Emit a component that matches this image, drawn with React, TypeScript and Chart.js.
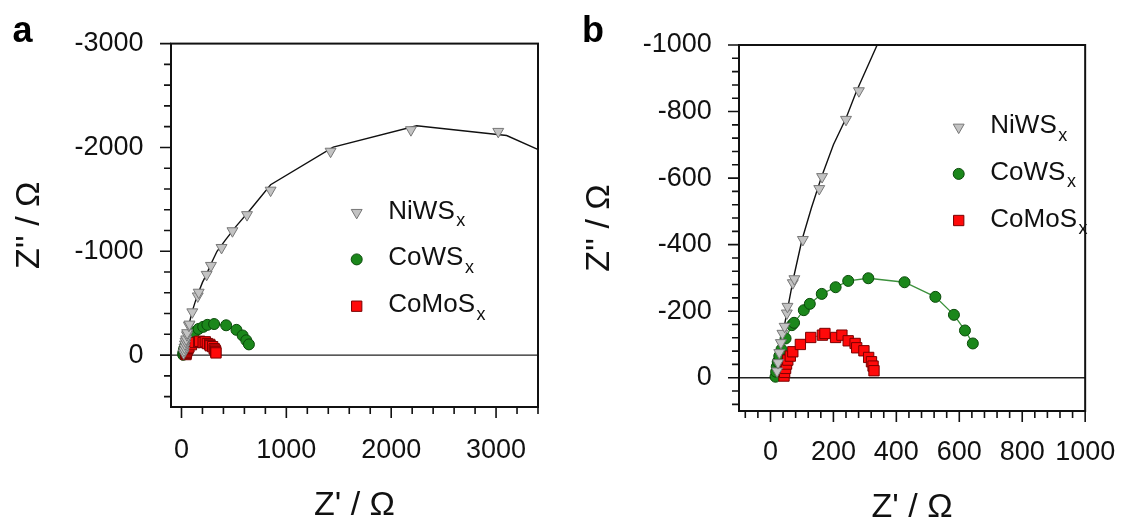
import React, { useEffect, useRef } from 'react';
import { Chart, registerables } from 'chart.js';

Chart.register(...registerables);

const FONT = "'Liberation Sans', Arial, Helvetica, sans-serif";

// ---- data (Z' real part, Z'' imaginary part, Ohm) ----
const niwsX = [21, 24, 28, 33, 38, 45, 52, 54, 71, 76, 103, 155, 164, 240, 281, 382, 486, 625, 850, 1422, 2188, 3021];
const niwsY = [-20, -45, -75, -105, -133, -154, -194, -214, -285, -297, -415, -568, -604, -776, -862, -1035, -1196, -1351, -1587, -1962, -2169, -2153];

const niwsFitX = [18, 24, 32, 42, 55, 73, 100, 130, 161, 200, 240, 273, 339, 420, 520, 640, 850, 1447, 2243, 3101, 3700];
const niwsFitY = [0, -40, -90, -145, -210, -299, -414, -510, -600, -700, -780, -860, -1000, -1110, -1240, -1380, -1641, -2003, -2208, -2115, -1845];

const cowsX = [16, 18, 20, 23, 28, 35, 48, 68, 75, 106, 125, 163, 207, 247, 311, 426, 524, 583, 618, 643];
const cowsY = [-3, -18, -33, -48, -65, -85, -118, -158, -165, -203, -222, -252, -272, -291, -299, -287, -243, -189, -142, -103];

const comosX = [43, 45, 48, 51, 55, 63, 71, 95, 128, 165, 173, 207, 227, 247, 269, 274, 297, 312, 321, 326, 329];
const comosY = [-5, -16, -28, -41, -53, -65, -78, -100, -121, -128, -133, -121, -128, -111, -103, -90, -81, -61, -48, -35, -21];

const seriesNames = ['NiWS', 'CoWS', 'CoMoS'];
const seriesSub = 'x';

// axis ranges / ticks
const aXRange = [-100, 3400];
const aYRange = [-3000, 500];
const aXLabels = [0, 1000, 2000, 3000];
const aYLabels = [-3000, -2000, -1000, 0];
const aMinorStep = 200;
const aMajorStep = 1000;

const bXRange = [-100, 1000];
const bYRange = [-1000, 100];
const bXLabels = [0, 200, 400, 600, 800, 1000];
const bYLabels = [-1000, -800, -600, -400, -200, 0];
const bMinorStep = 40;
const bMajorStep = 200;

const xTitle = "Z' / Ω";
const yTitle = "Z'' / Ω";

const pts = (xs: number[], ys: number[]) => xs.map((x, i) => ({ x, y: ys[i] }));

const STYLE = {
  tri: { bg: '#c3c3c3', border: '#777777', r: 6.3 },
  circ: { bg: '#1b871b', border: '#0a4a0a', r: 5.5 },
  sq: { bg: '#ff0a0a', border: '#7a0000', r: 7.3 },
};

function drawMarker(ctx: CanvasRenderingContext2D, kind: string, x: number, y: number) {
  ctx.save();
  ctx.lineWidth = 1;
  ctx.beginPath();
  if (kind === 'tri') {
    const r = STYLE.tri.r;
    ctx.moveTo(x, y + r);
    ctx.lineTo(x - r * Math.sin(Math.PI / 3), y - r / 2);
    ctx.lineTo(x + r * Math.sin(Math.PI / 3), y - r / 2);
    ctx.closePath();
    ctx.fillStyle = STYLE.tri.bg; ctx.strokeStyle = STYLE.tri.border;
  } else if (kind === 'circ') {
    ctx.arc(x, y, STYLE.circ.r, 0, Math.PI * 2);
    ctx.fillStyle = STYLE.circ.bg; ctx.strokeStyle = STYLE.circ.border;
  } else {
    const s = STYLE.sq.r * Math.SQRT1_2;
    ctx.rect(x - s, y - s, 2 * s, 2 * s);
    ctx.fillStyle = STYLE.sq.bg; ctx.strokeStyle = STYLE.sq.border;
  }
  ctx.fill();
  ctx.stroke();
  ctx.restore();
}

const decorPlugin = {
  id: 'decor',
  beforeDatasetsDraw(chart: any) {
    const { ctx, chartArea: a, scales } = chart;
    const y0 = scales.y.getPixelForValue(0);
    ctx.save();
    ctx.strokeStyle = '#222';
    ctx.lineWidth = 1.3;
    ctx.beginPath();
    ctx.moveTo(a.left, y0);
    ctx.lineTo(a.right, y0);
    ctx.stroke();
    ctx.restore();
  },
  afterDraw(chart: any, _args: any, opts: any) {
    const { ctx, chartArea: a, scales } = chart;
    const { x, y } = scales;
    ctx.save();
    // frame
    ctx.strokeStyle = '#111';
    ctx.lineWidth = 2;
    ctx.strokeRect(a.left, a.top, a.right - a.left, a.bottom - a.top);
    // ticks
    ctx.lineWidth = 1.6;
    const minor = opts.minorStep, major = opts.majorStep;
    ctx.beginPath();
    for (let v = Math.ceil(x.min / minor) * minor; v <= x.max + 1e-6; v += minor) {
      const px = x.getPixelForValue(v);
      const len = Math.abs(v % major) < 1e-6 ? 11 : 7;
      ctx.moveTo(px, a.bottom);
      ctx.lineTo(px, a.bottom + len);
    }
    for (let v = Math.ceil(y.min / minor) * minor; v <= y.max + 1e-6; v += minor) {
      const py = y.getPixelForValue(v);
      const len = Math.abs(v % major) < 1e-6 ? 11 : 7;
      ctx.moveTo(a.left, py);
      ctx.lineTo(a.left - len, py);
    }
    ctx.stroke();
    // legend
    const kinds = ['tri', 'circ', 'sq'];
    kinds.forEach((k, i) => {
      const mx = a.left + opts.legendX;
      const my = a.top + opts.legendY + i * opts.legendGap;
      drawMarker(ctx, k, mx, my);
      ctx.fillStyle = '#111';
      ctx.textAlign = 'left';
      ctx.textBaseline = 'alphabetic';
      ctx.font = `26px ${FONT}`;
      const tx = mx + 31.6;
      const base = my + 6;
      ctx.fillText(seriesNames[i], tx, base);
      const w = ctx.measureText(seriesNames[i]).width;
      ctx.font = `18px ${FONT}`;
      ctx.fillText(seriesSub, tx + w + 1.5, base + 7.5);
    });
    // panel letter
    ctx.font = `bold 36px ${FONT}`;
    ctx.fillStyle = '#000';
    ctx.textAlign = 'left';
    ctx.textBaseline = 'alphabetic';
    ctx.fillText(opts.letter, opts.letterX, 42);
    ctx.restore();
  },
};

interface PanelCfg {
  left: number;
  width: number;
  xRange: number[];
  yRange: number[];
  xLabels: number[];
  yLabels: number[];
  minorStep: number;
  majorStep: number;
  padTop: number;
  padRight: number;
  yWidth: number;
  xHeight: number;
  xTickPad: number;
  yTickPad: number;
  xTitlePad: number;
  yTitlePad: number;
  legendX: number;
  legendY: number;
  legendGap: number;
  letter: string;
  letterX: number;
}

function Panel({ cfg }: { cfg: PanelCfg }) {
  const ref = useRef<HTMLCanvasElement>(null);
  useEffect(() => {
    const tickFont = { family: FONT, size: 27 };
    const titleFont = { family: FONT, size: 34 };
    const chart = new Chart(ref.current as HTMLCanvasElement, {
      type: 'scatter',
      data: {
        datasets: [
          {
            label: 'NiWSx',
            data: pts(niwsX, niwsY),
            showLine: false,
            pointStyle: 'triangle',
            rotation: 180,
            pointRadius: STYLE.tri.r,
            backgroundColor: STYLE.tri.bg,
            borderColor: STYLE.tri.border,
            pointBorderWidth: 1,
          },
          {
            label: 'CoMoSx',
            data: pts(comosX, comosY),
            showLine: true,
            borderColor: 'rgba(150,20,20,0.7)',
            borderWidth: 1,
            pointStyle: 'rect',
            pointRadius: STYLE.sq.r,
            pointBackgroundColor: STYLE.sq.bg,
            pointBorderColor: STYLE.sq.border,
            pointBorderWidth: 1,
          },
          {
            label: 'CoWSx',
            data: pts(cowsX, cowsY),
            showLine: true,
            borderColor: '#3c913c',
            borderWidth: 1.3,
            pointStyle: 'circle',
            pointRadius: STYLE.circ.r,
            pointBackgroundColor: STYLE.circ.bg,
            pointBorderColor: STYLE.circ.border,
            pointBorderWidth: 1,
          },
          {
            label: 'NiWSx fit',
            data: pts(niwsFitX, niwsFitY),
            showLine: true,
            borderColor: '#111',
            borderWidth: 1.4,
            pointRadius: 0,
          },
        ],
      },
      options: {
        responsive: false,
        animation: false,
        events: [],
        devicePixelRatio: 1,
        layout: { padding: { top: cfg.padTop, right: cfg.padRight, left: 0, bottom: 0 } },
        plugins: {
          legend: { display: false },
          tooltip: { enabled: false },
          decor: {
            minorStep: cfg.minorStep,
            majorStep: cfg.majorStep,
            legendX: cfg.legendX,
            legendY: cfg.legendY,
            legendGap: cfg.legendGap,
            letter: cfg.letter,
            letterX: cfg.letterX,
          },
        } as any,
        scales: {
          x: {
            type: 'linear',
            min: cfg.xRange[0],
            max: cfg.xRange[1],
            grid: { display: false, drawTicks: false },
            border: { display: false },
            ticks: {
              font: tickFont,
              color: '#111',
              padding: cfg.xTickPad,
              maxRotation: 0,
              autoSkip: false,
              callback: (v: any) => String(v),
            },
            afterBuildTicks: (s: any) => {
              s.ticks = cfg.xLabels.map((v) => ({ value: v }));
            },
            afterFit: (s: any) => {
              s.height = cfg.xHeight;
            },
            title: { display: true, text: xTitle, font: titleFont, color: '#111', padding: { top: 0, bottom: cfg.xTitlePad } },
          },
          y: {
            type: 'linear',
            reverse: true,
            min: cfg.yRange[0],
            max: cfg.yRange[1],
            grid: { display: false, drawTicks: false },
            border: { display: false },
            ticks: {
              font: tickFont,
              color: '#111',
              padding: cfg.yTickPad,
              autoSkip: false,
              callback: (v: any) => String(v),
            },
            afterBuildTicks: (s: any) => {
              s.ticks = cfg.yLabels.map((v) => ({ value: v }));
            },
            afterFit: (s: any) => {
              s.width = cfg.yWidth;
            },
            title: { display: true, text: yTitle, font: titleFont, color: '#111', padding: { top: cfg.yTitlePad, bottom: 0 } },
          },
        },
      },
      plugins: [decorPlugin],
    } as any);
    return () => chart.destroy();
  }, []);
  return (
    <canvas
      ref={ref}
      width={cfg.width}
      height={528}
      style={{ position: 'absolute', left: cfg.left, top: 0, width: cfg.width, height: 528 }}
    />
  );
}

const panelA: PanelCfg = {
  left: 0, width: 570, xRange: aXRange, yRange: aYRange, xLabels: aXLabels, yLabels: aYLabels,
  minorStep: aMinorStep, majorStep: aMajorStep, padTop: 42, padRight: 32, yWidth: 171, xHeight: 121,
  xTickPad: 27, yTickPad: 27.4, xTitlePad: 2, yTitlePad: 9.6,
  legendX: 185.7, legendY: 169, legendGap: 46.8, letter: 'a', letterX: 12.5,
};

const panelB: PanelCfg = {
  left: 570, width: 571, xRange: bXRange, yRange: bYRange, xLabels: bXLabels, yLabels: bYLabels,
  minorStep: bMinorStep, majorStep: bMajorStep, padTop: 45, padRight: 36, yWidth: 169, xHeight: 117,
  xTickPad: 25.8, yTickPad: 27.3, xTitlePad: 0, yTitlePad: 9,
  legendX: 219.7, legendY: 82.3, legendGap: 46.6, letter: 'b', letterX: 12,
};

export default function App() {
  return (
    <div style={{ position: 'fixed', left: 0, top: 0, width: 1141, height: 528, background: '#fff', overflow: 'hidden' }}>
      <Panel cfg={panelA} />
      <Panel cfg={panelB} />
    </div>
  );
}
